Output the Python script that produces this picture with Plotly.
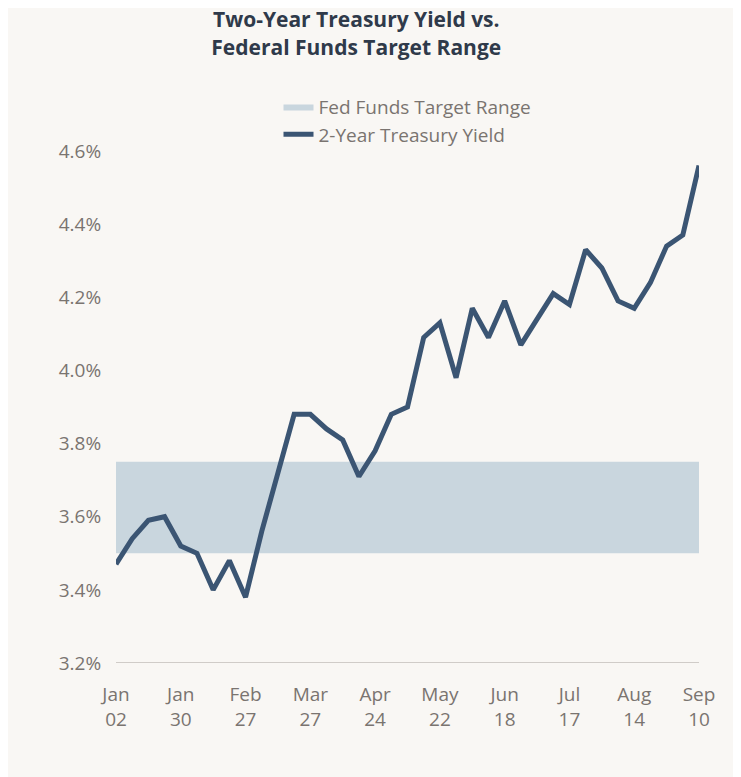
import plotly.graph_objects as go

yields = [3.47,3.54,3.59,3.60,3.52,3.50,3.40,3.48,3.38,3.56,3.72,3.88,3.88,3.84,3.81,3.71,3.78,3.88,3.90,4.09,4.13,3.98,4.17,4.09,4.19,4.07,4.14,4.21,4.18,4.33,4.28,4.19,4.17,4.24,4.34,4.37,4.56]
tick_pos = [0,4,8,12,16,20,24,28,32,36]
tick_labels = ["Jan<br>02","Jan<br>30","Feb<br>27","Mar<br>27","Apr<br>24","May<br>22","Jun<br>18","Jul<br>17","Aug<br>14","Sep<br>10"]
band_low, band_high = 3.50, 3.75

x = list(range(len(yields)))
n = len(yields) - 1
fig = go.Figure()
fig.add_trace(go.Scatter(x=[0, n, n, 0, 0], y=[band_low, band_low, band_high, band_high, band_low],
                         fill="toself", fillcolor="#c9d6de", line=dict(width=0), mode="lines",
                         name="Fed Funds Target Range"))
fig.add_trace(go.Scatter(x=x, y=yields, mode="lines", line=dict(color="#3b5573", width=5),
                         name="2-Year Treasury Yield"))
fig.update_layout(
    width=741, height=777, paper_bgcolor="#f9f7f4", plot_bgcolor="#f9f7f4",
    font=dict(family="Open Sans", color="#7a7470", size=19),
    title=dict(text="<b>Two-Year Treasury Yield vs.<br>Federal Funds Target Range</b>", x=0.47, y=0.975,
               xanchor="center", yanchor="top", font=dict(size=21, color="#2f3a4a")),
    margin=dict(l=108, r=50, t=132, b=122),
    showlegend=True,
    legend=dict(x=0.5, y=1.1, xanchor="center", yanchor="top", bgcolor="rgba(0,0,0,0)",
                font=dict(size=19, color="#7a7470"), tracegroupgap=0),
    xaxis=dict(range=[0, n], tickvals=tick_pos, ticktext=tick_labels, showgrid=False,
               zeroline=False, showline=False, ticks="outside", ticklen=14, tickcolor="rgba(0,0,0,0)"),
    yaxis=dict(range=[3.2, 4.63], tickvals=[3.2,3.4,3.6,3.8,4.0,4.2,4.4,4.6],
               ticktext=["3.2%","3.4%","3.6%","3.8%","4.0%","4.2%","4.4%","4.6%"],
               showgrid=False, zeroline=False, showline=False, ticks="outside", ticklen=10,
               tickcolor="rgba(0,0,0,0)"),
)
fig.add_shape(type="line", xref="x", yref="y", x0=0, x1=n, y0=3.2, y1=3.2,
              line=dict(color="#d0ccc8", width=2))
fig.write_html("out.html")
